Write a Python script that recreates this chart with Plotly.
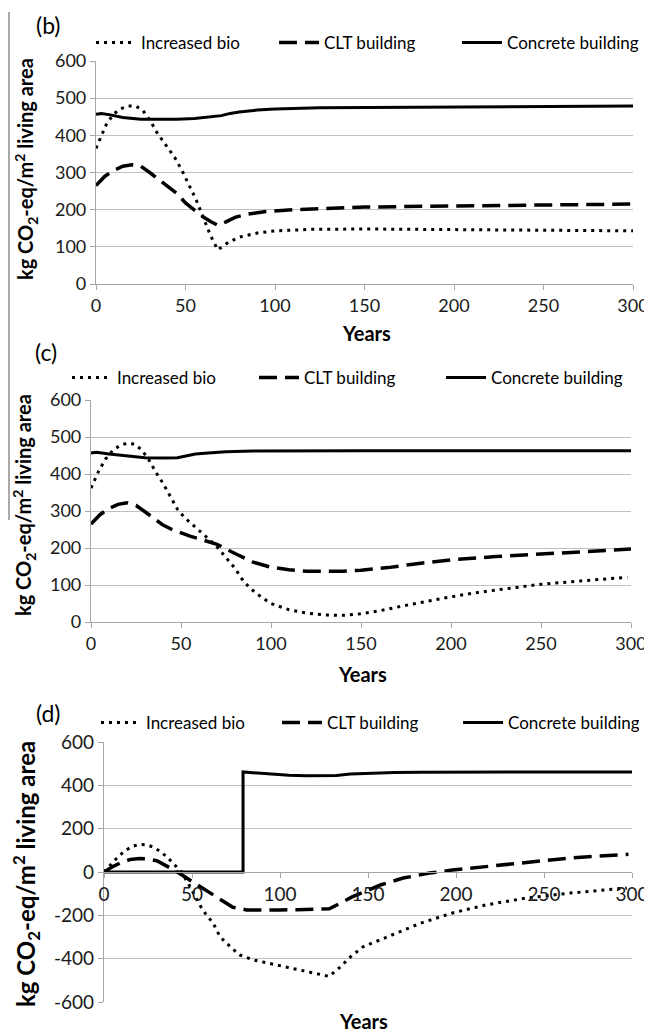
import plotly.graph_objects as go

# ---------------- data ----------------
series_names = ["Increased bio", "CLT building", "Concrete building"]
x_ticks = [0, 50, 100, 150, 200, 250, 300]
y_ticks_bc = [0, 100, 200, 300, 400, 500, 600]
y_ticks_d = [-600, -400, -200, 0, 200, 400, 600]
y_ticktext_d = ["-600", "-400", "-200", "0", "200", "400", "600"]

# panel (b)
b_bio_x = [0, 3, 6, 10, 14, 18, 22, 26, 30, 34, 40, 44, 48, 52, 56, 60, 64, 68, 70, 74, 80, 90, 100, 120, 150, 200, 250, 300]
b_bio_y = [365, 400, 432, 458, 472, 479, 479, 468, 442, 408, 368, 340, 306, 268, 226, 178, 130, 92, 98, 112, 126, 137, 143, 147, 148, 147, 145, 143]
b_clt_x = [0, 5, 10, 15, 20, 25, 30, 35, 40, 45, 50, 55, 60, 64, 68, 72, 78, 85, 95, 110, 130, 150, 200, 250, 300]
b_clt_y = [265, 290, 306, 317, 321, 317, 300, 282, 263, 244, 218, 198, 180, 168, 158, 166, 180, 188, 195, 200, 204, 207, 210, 213, 215]
b_conc_x = [0, 3, 8, 15, 25, 35, 45, 55, 65, 70, 75, 80, 90, 100, 125, 150, 200, 250, 300]
b_conc_y = [457, 459, 455, 448, 443, 442, 443, 445, 449, 453, 459, 463, 468, 471, 474, 475, 477, 478, 479]

# panel (c)
c_bio_x = [0, 4, 8, 12, 16, 20, 24, 28, 32, 36, 40, 44, 48, 52, 56, 60, 65, 70, 75, 80, 85, 90, 95, 100, 110, 120, 130, 140, 150, 160, 175, 190, 200, 215, 230, 250, 270, 285, 298]
c_bio_y = [362, 405, 440, 463, 477, 483, 481, 466, 440, 405, 375, 340, 305, 282, 265, 249, 226, 203, 175, 145, 108, 85, 66, 50, 33, 24, 19, 18, 22, 30, 45, 60, 68, 80, 90, 102, 110, 116, 121]
c_clt_x = [0, 5, 10, 15, 20, 25, 30, 35, 40, 45, 50, 55, 60, 70, 80, 90, 100, 110, 120, 130, 140, 150, 165, 180, 200, 225, 250, 275, 300]
c_clt_y = [265, 290, 307, 318, 322, 315, 298, 280, 262, 250, 240, 232, 225, 210, 185, 162, 148, 141, 137, 136, 137, 140, 147, 157, 168, 177, 184, 191, 197]
c_conc_x = [0, 3, 10, 20, 30, 40, 48, 52, 58, 65, 75, 90, 110, 150, 200, 250, 300]
c_conc_y = [457, 459, 454, 448, 444, 443, 444, 448, 454, 457, 460, 462, 463, 463, 463, 463, 463]

# panel (d)
d_bio_x = [0, 4, 8, 12, 16, 20, 24, 28, 32, 36, 40, 44, 48, 52, 56, 62, 66, 72, 77, 85, 98, 111, 120, 128, 134, 140, 147, 154, 161, 170, 180, 198, 217, 240, 265, 297]
d_bio_y = [0, 35, 70, 98, 118, 127, 126, 115, 95, 68, 36, 0, -55, -115, -175, -236, -300, -346, -383, -406, -429, -452, -465, -482, -440, -392, -346, -322, -300, -268, -236, -189, -152, -120, -97, -74]
d_clt_x = [0, 5, 10, 15, 20, 25, 30, 35, 40, 47, 55, 64, 73, 81, 90, 100, 110, 120, 128, 134, 141, 149, 157, 170, 185, 198, 217, 236, 265, 298]
d_clt_y = [0, 25, 45, 58, 62, 60, 52, 32, 8, -28, -70, -115, -162, -175, -176, -175, -174, -172, -170, -145, -115, -88, -60, -28, -5, 9, 25, 42, 65, 82]
d_conc_x = [0, 79, 79, 85, 95, 105, 115, 125, 132, 140, 150, 165, 180, 200, 250, 300]
d_conc_y = [0, 0, 462, 458, 450, 446, 444, 443, 445, 452, 456, 459, 460, 461, 462, 462]

# ---------------- styles ----------------
FONT = "Lato"
GRID = "#c0c0c0"
AXIS = "#a6a6a6"
styles = [
    dict(color="black", width=3, dash="3px,5px"),
    dict(color="black", width=3.5, dash="18px,8px"),
    dict(color="black", width=3),
]

# the page has an 8px body margin; positions below are page pixels
OFF = 8
W, H = 652 - OFF, 1032 - OFF
def px_x(v):
    return (v - OFF) / W
def px_y(v):
    return 1 - (v - OFF) / H

panels = [
    dict(key="", data=[(b_bio_x, b_bio_y), (b_clt_x, b_clt_y), (b_conc_x, b_conc_y)],
         xd=[96, 633], yd=[61, 284], legend="legend", tick=18),
    dict(key="2", data=[(c_bio_x, c_bio_y), (c_clt_x, c_clt_y), (c_conc_x, c_conc_y)],
         xd=[91, 631], yd=[400, 622], legend="legend2", tick=18),
    dict(key="3", data=[(d_bio_x, d_bio_y), (d_clt_x, d_clt_y), (d_conc_x, d_conc_y)],
         xd=[104, 632], yd=[742, 1002], legend="legend3", tick=19),
]

fig = go.Figure()
for p in panels:
    for name, (xs, ys), st in zip(series_names, p["data"], styles):
        fig.add_trace(go.Scatter(
            x=xs, y=ys, mode="lines", name=name, line=st,
            xaxis="x" + p["key"], yaxis="y" + p["key"], legend=p["legend"],
            hoverinfo="skip",
        ))

layout = dict(
    width=W, height=H, margin=dict(l=0, r=0, t=0, b=0, autoexpand=False),
    paper_bgcolor="white", plot_bgcolor="white",
    font=dict(family=FONT, color="black"),
)
for i, p in enumerate(panels):
    k = p["key"]
    tickfont = dict(family=FONT, size=p["tick"], color="#1a1a1a")
    xdom = [px_x(p["xd"][0]), px_x(p["xd"][1])]
    ydom = [px_y(p["yd"][1]), px_y(p["yd"][0])]
    xa = dict(domain=xdom, range=[0, 300], tickvals=x_ticks, showgrid=False,
              showline=True, linecolor=AXIS, linewidth=1.2, ticks="outside",
              ticklen=5, tickcolor=AXIS, zeroline=False, tickfont=tickfont,
              anchor="y" + k, fixedrange=True)
    if k == "3":
        ya = dict(domain=ydom, range=[-600, 600], tickvals=y_ticks_d, ticktext=y_ticktext_d,
                  gridcolor=GRID, gridwidth=1, showline=True, linecolor=AXIS, linewidth=1.2,
                  ticks="outside", ticklen=5, tickcolor=AXIS, zeroline=False,
                  tickfont=tickfont, anchor="x" + k)
        xa.update(anchor="free", position=(ydom[0] + ydom[1]) / 2)
    else:
        ya = dict(domain=ydom, range=[0, 600], tickvals=y_ticks_bc,
                  gridcolor=GRID, gridwidth=1, showline=True, linecolor=AXIS, linewidth=1.2,
                  ticks="outside", ticklen=5, tickcolor=AXIS, zeroline=False,
                  tickfont=tickfont, anchor="x" + k)
    layout["xaxis" + k] = xa
    layout["yaxis" + k] = ya

# (page x of legend, page y centre, entry width)
legend_pos = [(91, 43, 128), (67, 378, 132), (96, 723, 126)]
for lg, (lx, ly, ew) in zip(["legend", "legend2", "legend3"], legend_pos):
    layout[lg] = dict(orientation="h", x=px_x(lx), y=px_y(ly), xanchor="left", yanchor="middle",
                      font=dict(family=FONT, size=17, color="black"), bgcolor="rgba(0,0,0,0)",
                      itemwidth=40, entrywidth=ew, tracegroupgap=0)

fig.update_layout(**layout)

ytitle = "<b>kg CO<sub>2</sub>-eq/m<sup>2</sup> living area</b>"
ann = []
for (cx, cy, fs) in [(26, 169, 20), (24, 505, 20), (26, 874, 24)]:
    ann.append(dict(text=ytitle, x=px_x(cx), y=px_y(cy), xref="paper", yref="paper",
                    textangle=-90, showarrow=False, xanchor="center", yanchor="middle",
                    font=dict(family=FONT, size=fs, color="black")))
for (cx, cy) in [(366, 333), (362, 674), (363, 1021)]:
    ann.append(dict(text="<b>Years</b>", x=px_x(cx), y=px_y(cy), xref="paper", yref="paper",
                    showarrow=False, xanchor="center", yanchor="middle",
                    font=dict(family=FONT, size=20, color="black")))
for lab, (cx, cy) in zip(["(b)", "(c)", "(d)"], [(48, 25), (46, 352), (48, 713)]):
    ann.append(dict(text=lab, x=px_x(cx), y=px_y(cy), xref="paper", yref="paper",
                    showarrow=False, xanchor="center", yanchor="middle",
                    font=dict(family=FONT, size=23, color="black")))
fig.update_layout(annotations=ann)

fig.add_shape(type="line", xref="paper", yref="paper",
              x0=px_x(9), x1=px_x(9), y0=px_y(12), y1=px_y(520),
              line=dict(color="#8c8c8c", width=1.5))

fig.write_html("out.html")
